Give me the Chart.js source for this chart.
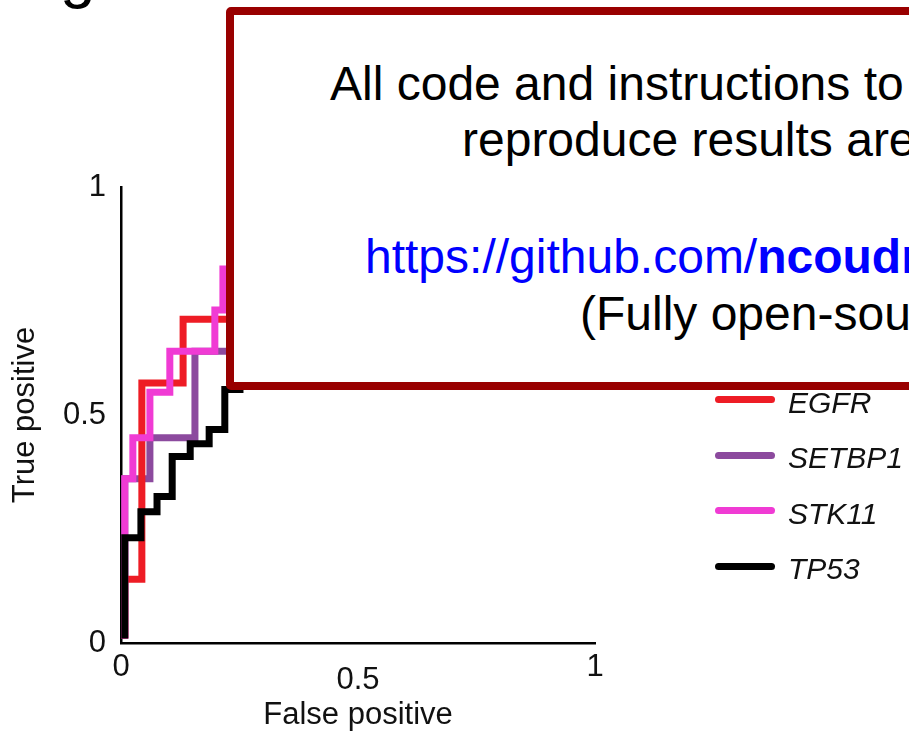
<!DOCTYPE html>
<html>
<head>
<meta charset="utf-8">
<script src="https://cdn.jsdelivr.net/npm/chart.js@4.4.1/dist/chart.umd.min.js"></script>
<style>
html, body { margin: 0; padding: 0; background: #fff; overflow: hidden; }
#wrap { position: relative; width: 909px; height: 735px; overflow: hidden; font-family: "Liberation Sans", Arial, sans-serif; }
#roc { position: absolute; left: 0; top: 0; }
#legend { position: absolute; left: 715px; top: 372px; }
.row { display: flex; align-items: center; height: 55.5px; }
.swatch { width: 60px; height: 7px; border-radius: 3.5px; margin-right: 13px; }
.name { font-style: italic; font-size: 30px; line-height: 1; position: relative; top: 3px; color: #111; }
#note { position: absolute; left: 226px; top: 7px; width: 760px; height: 383px; box-sizing: border-box; border: 8px solid #990000; border-radius: 5px; background: #fff; }
.line { position: absolute; white-space: nowrap; font-size: 48px; line-height: 57px; color: #000; }
.url { color: #0000ff; }
#panel { position: absolute; left: 60px; top: -58px; font-size: 64px; line-height: 64px; color: #000; }
</style>
</head>
<body>
<div id="wrap">
  <div id="panel">g</div>
  <canvas id="roc" width="909" height="735"></canvas>
  <div id="legend"></div>
  <div id="note"></div>
  <div class="line" style="left:330px; top:55px;">All code and instructions to</div>
  <div class="line" style="left:462px; top:111px;">reproduce results are available at:</div>
  <div class="line url" style="left:365px; top:228px;">https://github.com/<b>ncoudray/DeepPATH</b></div>
  <div class="line" style="left:580px; top:285px;">(Fully open-source)</div>
</div>
<script>
// ROC data (false positive rate / true positive rate)
const genes = ['EGFR', 'SETBP1', 'STK11', 'TP53'];
const geneColors = ['#ee1c25', '#8c4a9e', '#f03bd4', '#000000'];

const egfrFpr = [0.008, 0.008, 0.044, 0.044, 0.131, 0.131, 0.30, 1];
const egfrTpr = [0.01, 0.14, 0.14, 0.57, 0.57, 0.71, 0.71, 1];

const setbp1Fpr = [0.008, 0.008, 0.061, 0.061, 0.156, 0.156, 0.30, 1];
const setbp1Tpr = [0.01, 0.36, 0.36, 0.45, 0.45, 0.64, 0.64, 1];

const stk11Fpr = [0.008, 0.008, 0.025, 0.025, 0.061, 0.061, 0.103, 0.103, 0.198, 0.198, 0.215, 0.215, 0.30, 1];
const stk11Tpr = [0.01, 0.36, 0.36, 0.45, 0.45, 0.55, 0.55, 0.64, 0.64, 0.73, 0.73, 0.82, 0.82, 1];

const tp53Fpr = [0.008, 0.008, 0.042, 0.042, 0.076, 0.076, 0.108, 0.108, 0.146, 0.146, 0.186, 0.186, 0.219, 0.219, 0.251, 0.251, 1];
const tp53Tpr = [0.01, 0.231, 0.231, 0.288, 0.288, 0.321, 0.321, 0.409, 0.409, 0.437, 0.437, 0.468, 0.468, 0.556, 0.556, 0.6, 1];

const xTicks = [0, 0.5, 1];
const yTicks = [0, 0.5, 1];

const curves = [[egfrFpr, egfrTpr], [setbp1Fpr, setbp1Tpr], [stk11Fpr, stk11Tpr], [tp53Fpr, tp53Tpr]];
const drawOrder = [2, 3, 1, 0]; // lower = on top
const FONT = '"Liberation Sans", Arial, sans-serif';

const chart = new Chart(document.getElementById('roc'), {
  type: 'scatter',
  data: {
    datasets: genes.map((g, i) => ({
      label: g,
      data: curves[i][0].map((x, j) => ({ x: x, y: curves[i][1][j] })),
      borderColor: geneColors[i],
      backgroundColor: geneColors[i],
      borderWidth: 7,
      borderJoinStyle: 'miter',
      showLine: true,
      pointRadius: 0,
      tension: 0,
      order: drawOrder[i]
    }))
  },
  options: {
    responsive: false,
    animation: false,
    devicePixelRatio: 1,
    layout: { padding: { left: 0, top: 187, right: 314, bottom: 0 } },
    plugins: { legend: { display: false }, tooltip: { enabled: false } },
    scales: {
      x: {
        type: 'linear', min: 0, max: 1,
        grid: { display: false, drawTicks: false },
        border: { display: true, color: '#000', width: 2.5 },
        afterBuildTicks: (s) => { s.ticks = xTicks.map(v => ({ value: v })); },
        afterFit: (s) => { s.height = 92; },
        ticks: {
          color: '#111', padding: 6, maxRotation: 0, autoSkip: false,
          callback: (v) => String(v),
          font: (ctx) => ({ family: FONT, size: 31, lineHeight: (ctx.tick && ctx.tick.value === 0.5) ? 2.0 : 1.2 })
        },
        title: { display: true, text: 'False positive', color: '#111', font: { family: FONT, size: 31, lineHeight: 1.2 }, padding: { top: 0, bottom: 1 } }
      },
      y: {
        type: 'linear', min: 0, max: 1,
        grid: { display: false, drawTicks: false },
        border: { display: true, color: '#000', width: 2.5 },
        afterBuildTicks: (s) => { s.ticks = yTicks.map(v => ({ value: v })); },
        afterFit: (s) => { s.width = 121; },
        ticks: { color: '#111', padding: 15, callback: (v) => String(v), font: { family: FONT, size: 31 } },
        title: { display: true, text: 'True positive', color: '#111', font: { family: FONT, size: 31, lineHeight: 1.2 }, padding: { top: 7, bottom: 0 } }
      }
    }
  }
});

// Legend built from the datasets
const legendEl = document.getElementById('legend');
chart.data.datasets.forEach(ds => {
  const row = document.createElement('div');
  row.className = 'row';
  row.innerHTML = '<span class="swatch" style="background:' + ds.borderColor + '"></span><span class="name">' + ds.label + '</span>';
  legendEl.appendChild(row);
});
</script>
</body>
</html>
